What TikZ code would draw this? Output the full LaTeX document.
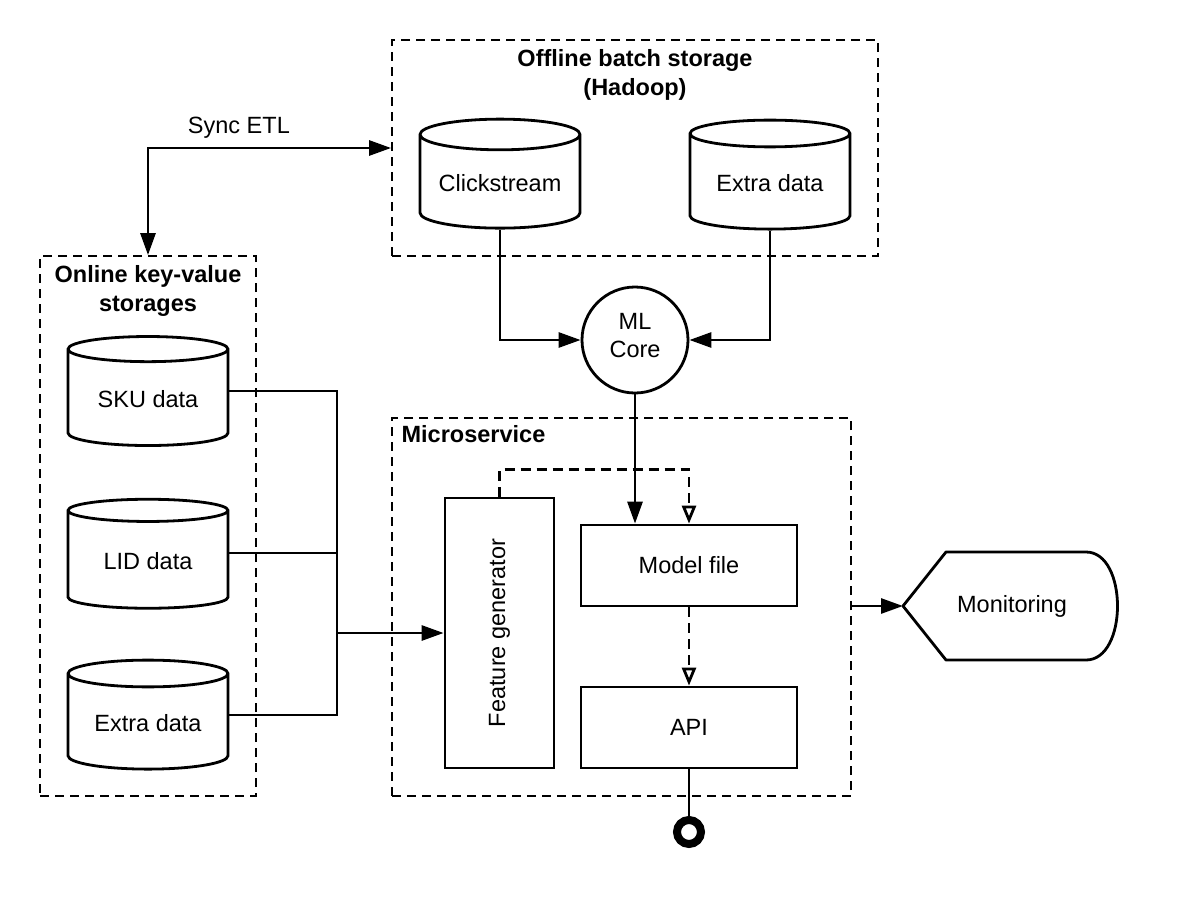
\documentclass[tikz,border=0pt]{standalone}
\usepackage{fontspec}
\setmainfont{Liberation Sans}
\usepackage{tikz}
\usetikzlibrary{shapes.geometric, arrows.meta}

\newcommand{\shiftdown}[2]{\raisebox{#1}[\height][\depth]{#2}}

\tikzset{
  group/.style={draw, line width=1.8pt, dash pattern=on 9pt off 6pt},
  store/.style={cylinder, shape border rotate=90, draw, line width=2.8pt,
    minimum width=160pt, minimum height=109pt, aspect=0.25, inner sep=0pt},
  block/.style={draw, line width=2.8pt, inner sep=0pt},
  conn/.style={line width=2.8pt, -{Triangle[length=22pt,width=15pt]}},
  plain/.style={line width=2.8pt},
  dasharrow/.style={line width=2.8pt, dash pattern=on 10pt off 6pt,
    -{Triangle[open,length=18pt,width=14pt]}},
  title/.style={font=\fontsize{23.5}{29}\selectfont\bfseries, align=center}
}

\begin{document}
\begin{tikzpicture}[x=1pt, y=-1pt, font=\fontsize{23.5}{28}\selectfont]
\useasboundingbox (0,0) rectangle (1188,918);

% Offline batch storage
\node[group, minimum width=486pt, minimum height=216pt] (offline) at (635,148) {};
\node[title, anchor=north] at (offline.north) [yshift=-7pt] {Offline batch storage\\(Hadoop)};
\node[store] (click) at (500,182) {\shiftdown{-1pt}{Clickstream}};
\node[store] (extraoff) at (770,182) {\shiftdown{-1pt}{Extra data}};

% ML core
\node[circle, draw, line width=2.8pt, minimum size=106pt, align=center, inner sep=0pt] (ml) at (635,340) {\shiftdown{4pt}{ML}\\\shiftdown{4pt}{Core}};
\draw[conn] (click.south) |- (ml.west);
\draw[conn] (extraoff.south) |- (ml.east);

% Online key-value storages
\node[group, minimum width=216pt, minimum height=540pt] (online) at (148,526) {};
\node[title, anchor=north] at (online.north) [yshift=-7pt] {Online key-value\\storages};
\node[store] (sku) at (148,398) {\shiftdown{-1pt}{SKU data}};
\node[store] (lid) at (148,560) {\shiftdown{-1pt}{LID data}};
\node[store] (extraon) at (148,722) {\shiftdown{-1pt}{Extra data}};

% Sync ETL
\draw[line width=2.8pt, {Triangle[length=22pt,width=15pt]}-{Triangle[length=22pt,width=15pt]}] (online.north) |- (offline.west)
  node[pos=0.687, above=5pt] {Sync ETL};

% Microservice
\node[group, minimum width=459pt, minimum height=378pt] (micro) at (621.5,607) {};
\node[title, anchor=north west] at (micro.north west) [xshift=7pt, yshift=-5pt] {Microservice};
\node[block, minimum width=109pt, minimum height=270pt] (feat) at (499.5,633) {};
\node[rotate=90] at (feat.center) {Feature generator};
\node[block, minimum width=216pt, minimum height=81pt] (model) at (689,565.5) {Model file};
\node[block, minimum width=216pt, minimum height=81pt] (api) at (689,727.5) {API};

% storages to feature generator
\coordinate (join) at (337,633);
\draw[plain] ([yshift=7pt]sku.east) -| (join);
\draw[plain] ([yshift=7pt]lid.east) -| (join);
\draw[plain] ([yshift=7pt]extraon.east) -| (join);
\draw[conn] (join) -- (feat.west);

% model flow
\draw[conn] (ml.south) -- (ml.south |- model.north);
\draw[dasharrow] (feat.north) -- ++(0,-27) -| (model.north);
\draw[dasharrow] (model.south) -- (api.north);

% API port
\node[circle, draw, line width=8pt, minimum size=24pt, inner sep=0pt] (port) at (689,832) {};
\draw[plain] (api.south) -- (port.north);

% Monitoring
\node (mon) at (1012,606) {Monitoring};
\coordinate (montip) at (903,606);
\draw[line width=2.8pt, line join=round] (montip) -- (946,552) -- (1086,552)
  .. controls (1128,552) and (1128,660) .. (1086,660) -- (946,660) -- cycle;
\draw[conn] (micro.east |- montip) -- (montip);
\end{tikzpicture}
\end{document}
